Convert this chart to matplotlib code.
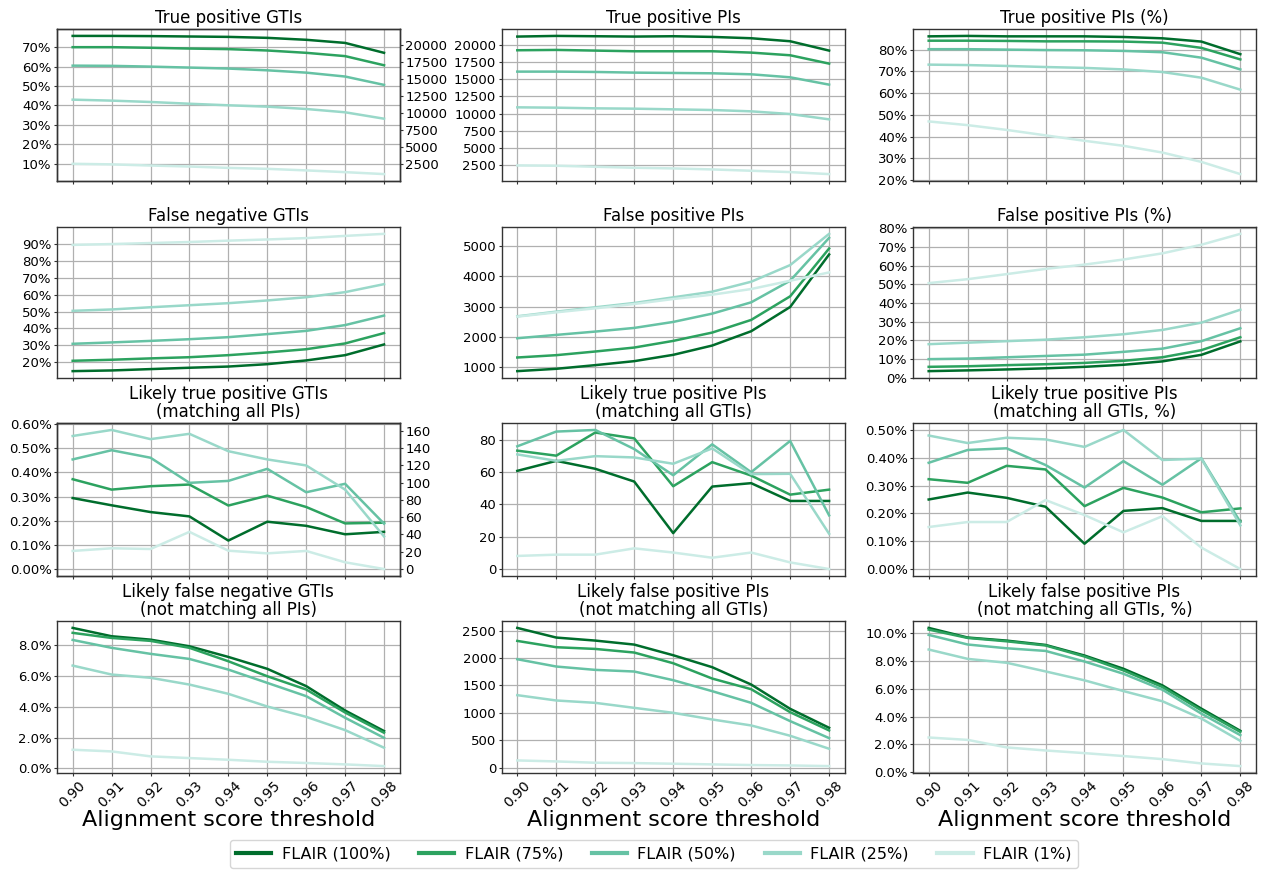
import matplotlib
matplotlib.use('Agg')
import matplotlib.pyplot as plt
from matplotlib.ticker import MultipleLocator, PercentFormatter

# alignment score thresholds (x axis)
thresholds = [0.90, 0.91, 0.92, 0.93, 0.94, 0.95, 0.96, 0.97, 0.98]

# series order: FLAIR (100%), (75%), (50%), (25%), (1%)
labels = ['FLAIR (100%)', 'FLAIR (75%)', 'FLAIR (50%)', 'FLAIR (25%)', 'FLAIR (1%)']
colors = ['#006d2c', '#2ca25f', '#66c2a4', '#99d8c9', '#ccece6']

# values (percent panels in %)
tp_gti_pct = [
    [75.8, 75.8, 75.7, 75.5, 75.3, 74.8, 73.8, 72.2, 67.1],
    [70.0, 70.0, 69.7, 69.3, 69.0, 68.3, 67.1, 65.4, 60.7],
    [60.5, 60.4, 60.0, 59.5, 59.0, 58.1, 56.9, 54.9, 50.6],
    [43.0, 42.5, 41.8, 40.9, 40.1, 39.4, 38.2, 36.5, 33.2],
    [10.0, 9.7, 9.1, 8.6, 7.9, 7.4, 6.6, 5.7, 4.7],
]
tp_pi = [
    [21215, 21312, 21264, 21215, 21264, 21166, 20972, 20534, 19173],
    [19222, 19271, 19173, 19076, 19076, 19076, 18881, 18493, 17277],
    [16111, 16111, 16062, 15965, 15916, 15868, 15722, 15284, 14215],
    [10910, 10861, 10764, 10715, 10618, 10521, 10326, 9937, 9160],
    [2451, 2403, 2257, 2111, 2014, 1868, 1674, 1479, 1188],
]
tp_pi_pct = [
    [86.1, 86.3, 86.1, 86.1, 86.1, 85.8, 85.2, 83.7, 77.9],
    [84.1, 84.1, 84.0, 83.8, 83.8, 83.7, 83.2, 80.8, 75.5],
    [80.2, 80.2, 80.0, 79.8, 79.7, 79.4, 78.8, 76.3, 70.9],
    [73.1, 72.9, 72.5, 72.0, 71.6, 70.9, 69.7, 67.1, 61.6],
    [47.0, 45.3, 43.1, 40.6, 38.1, 35.8, 32.7, 28.4, 22.8],
]
fn_gti_pct = [
    [14.9, 15.3, 16.1, 16.9, 17.6, 19.0, 21.2, 24.3, 30.6],
    [21.0, 21.6, 22.4, 23.1, 24.3, 25.9, 27.8, 31.2, 37.3],
    [31.0, 31.8, 32.7, 33.7, 34.9, 36.7, 38.6, 42.0, 47.6],
    [50.4, 51.2, 52.5, 53.7, 54.9, 56.5, 58.4, 61.4, 66.1],
    [89.2, 89.7, 90.3, 90.9, 91.7, 92.4, 93.2, 94.5, 95.7],
]
fp_pi = [
    [868, 945, 1066, 1198, 1407, 1714, 2187, 2989, 4726],
    [1319, 1396, 1517, 1648, 1868, 2143, 2561, 3341, 4923],
    [1956, 2066, 2176, 2297, 2495, 2769, 3143, 3857, 5275],
    [2681, 2835, 2978, 3121, 3308, 3495, 3824, 4374, 5407],
    [2670, 2813, 2945, 3088, 3253, 3396, 3583, 3857, 4132],
]
fp_pi_pct = [
    [3.6, 4.0, 4.5, 5.1, 5.9, 7.0, 8.8, 12.3, 19.5],
    [5.9, 6.2, 6.8, 7.3, 8.0, 9.1, 11.0, 14.8, 21.7],
    [10.0, 10.3, 11.0, 11.7, 12.4, 13.9, 15.6, 19.6, 26.5],
    [18.0, 18.8, 19.6, 20.4, 21.7, 23.3, 25.6, 29.5, 36.4],
    [50.6, 52.7, 55.4, 58.2, 60.5, 63.2, 66.5, 71.1, 76.9],
]
ltp_gti_pct = [
    [0.294, 0.264, 0.236, 0.218, 0.118, 0.196, 0.179, 0.144, 0.154],
    [0.372, 0.329, 0.343, 0.350, 0.263, 0.304, 0.257, 0.189, 0.192],
    [0.454, 0.492, 0.461, 0.357, 0.365, 0.415, 0.318, 0.353, 0.188],
    [0.551, 0.576, 0.538, 0.560, 0.488, 0.454, 0.429, 0.329, 0.135],
    [0.075, 0.086, 0.083, 0.154, 0.076, 0.065, 0.075, 0.028, 0.0],
]
ltp_pi = [
    [60.7, 66.9, 62.0, 54.1, 22.2, 51.0, 53.1, 42.1, 42.1],
    [73.2, 70.1, 84.4, 80.8, 51.2, 66.1, 57.8, 46.0, 49.1],
    [75.9, 85.0, 86.0, 74.2, 58.0, 77.1, 59.9, 79.2, 33.2],
    [70.9, 66.9, 69.8, 69.0, 65.1, 74.6, 58.7, 58.9, 21.8],
    [8.1, 8.9, 8.9, 12.8, 10.2, 7.0, 10.2, 4.1, 0.0],
]
ltp_pi_pct = [
    [0.250, 0.275, 0.256, 0.224, 0.091, 0.209, 0.219, 0.173, 0.173],
    [0.323, 0.310, 0.371, 0.358, 0.226, 0.292, 0.257, 0.204, 0.218],
    [0.382, 0.428, 0.434, 0.374, 0.293, 0.388, 0.303, 0.398, 0.169],
    [0.480, 0.453, 0.472, 0.466, 0.439, 0.500, 0.392, 0.397, 0.157],
    [0.151, 0.169, 0.169, 0.248, 0.194, 0.132, 0.190, 0.077, 0.0],
]
lfn_gti_pct = [
    [9.10, 8.56, 8.34, 7.91, 7.22, 6.45, 5.33, 3.75, 2.42],
    [8.78, 8.45, 8.26, 7.81, 6.94, 5.97, 5.11, 3.62, 2.31],
    [8.32, 7.81, 7.42, 7.09, 6.40, 5.54, 4.68, 3.28, 1.98],
    [6.66, 6.08, 5.87, 5.43, 4.83, 4.01, 3.34, 2.48, 1.34],
    [1.21, 1.10, 0.78, 0.67, 0.56, 0.43, 0.35, 0.26, 0.15],
]
lfp_pi = [
    [2549, 2373, 2318, 2245, 2051, 1833, 1517, 1074, 728],
    [2312, 2197, 2166, 2100, 1905, 1626, 1432, 1013, 680],
    [1978, 1845, 1784, 1754, 1596, 1396, 1183, 850, 540],
    [1323, 1226, 1183, 1092, 1001, 880, 771, 583, 346],
    [133, 115, 91, 85, 73, 61, 49, 42, 30],
]
lfp_pi_pct = [
    [10.36, 9.67, 9.45, 9.14, 8.38, 7.43, 6.24, 4.57, 2.98],
    [10.24, 9.64, 9.40, 9.10, 8.31, 7.31, 6.12, 4.45, 2.90],
    [9.86, 9.17, 8.90, 8.71, 7.95, 7.07, 5.93, 4.21, 2.67],
    [8.81, 8.14, 7.86, 7.24, 6.60, 5.83, 5.10, 3.86, 2.26],
    [2.50, 2.33, 1.79, 1.57, 1.38, 1.17, 0.95, 0.64, 0.45],
]

# count axis on the right of the GTI panels: count = offset + slope * percent
tp_gti_count_scale = (-367.0, 286.7)
ltp_gti_count_scale = (0.0, 279.6)

# (title, data, tick step, percent decimals or None)
panels = [
    ('True positive GTIs', tp_gti_pct, 10, 0),
    ('True positive PIs', tp_pi, 2500, None),
    ('True positive PIs (%)', tp_pi_pct, 10, 0),
    ('False negative GTIs', fn_gti_pct, 10, 0),
    ('False positive PIs', fp_pi, 1000, None),
    ('False positive PIs (%)', fp_pi_pct, 10, 0),
    ('Likely true positive GTIs\n(matching all PIs)', ltp_gti_pct, 0.1, 2),
    ('Likely true positive PIs\n(matching all GTIs)', ltp_pi, 20, None),
    ('Likely true positive PIs\n(matching all GTIs, %)', ltp_pi_pct, 0.1, 2),
    ('Likely false negative GTIs\n(not matching all PIs)', lfn_gti_pct, 2, 1),
    ('Likely false positive PIs\n(not matching all GTIs)', lfp_pi, 500, None),
    ('Likely false positive PIs\n(not matching all GTIs, %)', lfp_pi_pct, 2, 1),
]

W, H = 1262, 871
fig = plt.figure(figsize=(W / 100, H / 100), dpi=100)

col_px = [(57.1, 399.6), (501.7, 844.7), (913.1, 1255.9)]
row_px = [(29, 181), (227, 378), (423, 576), (621, 773)]
spine_col = '#333333'

handles = []
for i, (title, data, step, dec) in enumerate(panels):
    r, c = divmod(i, 3)
    x0, x1 = col_px[c]
    y0, y1 = row_px[r]
    ax = fig.add_axes([x0 / W, 1 - y1 / H, (x1 - x0) / W, (y1 - y0) / H])
    for series, col, lab in zip(data, colors, labels):
        line, = ax.plot(thresholds, series, color=col, lw=1.8, label=lab)
        if i == 0:
            handles.append(line)
    ax.set_title(title, fontsize=12, linespacing=1.0, pad=4)
    ax.grid(True, color='#b0b0b0', lw=0.9)
    ax.set_xticks(thresholds)
    ax.yaxis.set_major_locator(MultipleLocator(step))
    if dec is not None:
        ax.yaxis.set_major_formatter(PercentFormatter(100, decimals=dec))
    ax.tick_params(labelsize=9.5, length=2.5, pad=1.5, color=spine_col)
    for s in ax.spines.values():
        s.set_color(spine_col)
        s.set_linewidth(1.0)
    if r < 3:
        ax.tick_params(labelbottom=False)
    else:
        ax.set_xticklabels(['%.2f' % t for t in thresholds], rotation=45,
                           fontsize=10)
        ax.set_xlabel('Alignment score threshold', fontsize=16, labelpad=0)

    # twin count axis for the GTI percent panels
    if i in (0, 6):
        off, slope = tp_gti_count_scale if i == 0 else ltp_gti_count_scale
        lo, hi = ax.get_ylim()
        ax2 = ax.twinx()
        ax2.set_ylim(off + slope * lo, off + slope * hi)
        ax2.yaxis.set_major_locator(MultipleLocator(2500 if i == 0 else 20))
        if i == 0:
            ax2.set_yticks(list(range(2500, 20001, 2500)))
            ax2.set_ylim(off + slope * lo, off + slope * hi)
        ax2.tick_params(labelsize=9.5, length=2.5, pad=1.5, color=spine_col)
        for s in ax2.spines.values():
            s.set_color(spine_col)
            s.set_linewidth(1.0)

leg = fig.legend(handles=handles, labels=labels, loc='center', ncol=5,
                 bbox_to_anchor=(0.518, 0.0195), fontsize=11.5,
                 handlelength=2.2, handletextpad=0.65, columnspacing=1.8)
for lh in leg.get_lines():
    lh.set_linewidth(3)

plt.savefig('out.png', dpi=100)
plt.close()
